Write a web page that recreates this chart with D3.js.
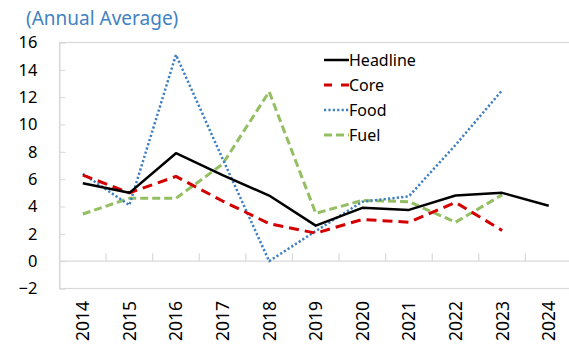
<!DOCTYPE html>
<html lang="en">
<head>
<meta charset="utf-8">
<title>Inflation annual average</title>
<script src="https://d3js.org/d3.v7.min.js"></script>
<style>
  body { margin: 0; background: #fff; }
  text { font-family: "Noto Sans", "Open Sans", sans-serif; }
</style>
</head>
<body>
<script>
  // Data
  var years    = ["2014","2015","2016","2017","2018","2019","2020","2021","2022","2023","2024"];
  var headline = [5.7, 5.0, 7.9, 6.3, 4.8, 2.6, 3.9, 3.75, 4.8, 5.0, 4.05];
  var core     = [6.3, 5.0, 6.2, 4.4, 2.75, 2.05, 3.05, 2.85, 4.3, 2.25, null];
  var food     = [6.4, 4.1, 15.1, 7.5, 0.0, 2.2, 4.35, 4.75, 8.5, 12.5, null];
  var fuel     = [3.45, 4.6, 4.6, 7.1, 12.4, 3.5, 4.45, 4.35, 2.85, 4.85, null];
  var yTicks   = [-2, 0, 2, 4, 6, 8, 10, 12, 14, 16];

  var w = 569, h = 350;
  var plotL = 59.5, plotR = 572, plotT = 42.5, plotB = 288.5;

  var svg = d3.select("body").append("svg").attr("width", w).attr("height", h);

  var x = d3.scaleBand().domain(years).range([plotL, plotR]).padding(0);
  var y = d3.scaleLinear().domain([-2, 16]).range([plotB, plotT]);

  // title
  svg.append("text").attr("x", 26).attr("y", 25)
    .attr("font-size", "19px").attr("fill", "#4282c0")
    .text("(Annual Average)");

  // plot border
  svg.append("rect").attr("x", plotL).attr("y", plotT)
    .attr("width", plotR - plotL).attr("height", plotB - plotT)
    .attr("fill", "none").attr("stroke", "#d9d9d9").attr("stroke-width", 1.2);

  // y axis (ticks inside, labels left)
  var yAxis = d3.axisLeft(y).tickValues(yTicks).tickSize(-6).tickPadding(22);
  var gy = svg.append("g").attr("transform", "translate(" + plotL + ",0)").call(yAxis);
  gy.select(".domain").attr("stroke", "#d9d9d9");
  gy.selectAll(".tick line").attr("stroke", "#d9d9d9");
  gy.selectAll(".tick text").attr("font-size", "16.5px").attr("fill", "#000");

  // zero line with category tick marks
  var zero = y(0);
  svg.append("line").attr("x1", plotL).attr("x2", plotR).attr("y1", zero).attr("y2", zero)
    .attr("stroke", "#d9d9d9").attr("stroke-width", 1.2);
  svg.selectAll("line.xtick").data(years.slice(1)).enter().append("line")
    .attr("class", "xtick")
    .attr("x1", function(d) { return x(d); }).attr("x2", function(d) { return x(d); })
    .attr("y1", zero - 8).attr("y2", zero)
    .attr("stroke", "#d9d9d9").attr("stroke-width", 1.2);

  // rotated year labels
  svg.selectAll("text.xlab").data(years).enter().append("text")
    .attr("class", "xlab")
    .attr("transform", function(d) {
      return "translate(" + (x(d) + x.bandwidth() / 2 + 6.5) + "," + 301 + ") rotate(-90)";
    })
    .attr("text-anchor", "end").attr("font-size", "17.5px").attr("fill", "#000")
    .text(function(d) { return d; });

  // series
  var series = [
    { name: "Headline", values: headline, color: "#000000", width: 2.5, dash: null },
    { name: "Core",     values: core,     color: "#d40000", width: 3,   dash: "10,6" },
    { name: "Food",     values: food,     color: "#3f7fc0", width: 2.5, dash: "2.2,2.2" },
    { name: "Fuel",     values: fuel,     color: "#93bf62", width: 3,   dash: "8,4" }
  ];

  var line = d3.line()
    .defined(function(d) { return d != null; })
    .x(function(d, i) { return x(years[i]) + x.bandwidth() / 2; })
    .y(function(d) { return y(d); });

  // draw in reverse so headline sits on top
  series.slice().reverse().forEach(function(s) {
    svg.append("path").datum(s.values)
      .attr("d", line)
      .attr("fill", "none")
      .attr("stroke", s.color)
      .attr("stroke-width", s.width)
      .attr("stroke-dasharray", s.dash)
      .attr("stroke-linejoin", "round");
  });

  // legend
  var lg = svg.append("g").attr("transform", "translate(324,60)");
  series.forEach(function(s, i) {
    var yy = i * 25;
    lg.append("line").attr("x1", 0).attr("x2", 25).attr("y1", yy).attr("y2", yy)
      .attr("stroke", s.color).attr("stroke-width", s.width)
      .attr("stroke-dasharray", s.name == "Core" ? "8,9" : s.dash);
    lg.append("text").attr("x", 25).attr("y", yy).attr("dy", "0.36em")
      .attr("font-size", "16px").attr("fill", "#000").text(s.name);
  });
</script>
</body>
</html>
